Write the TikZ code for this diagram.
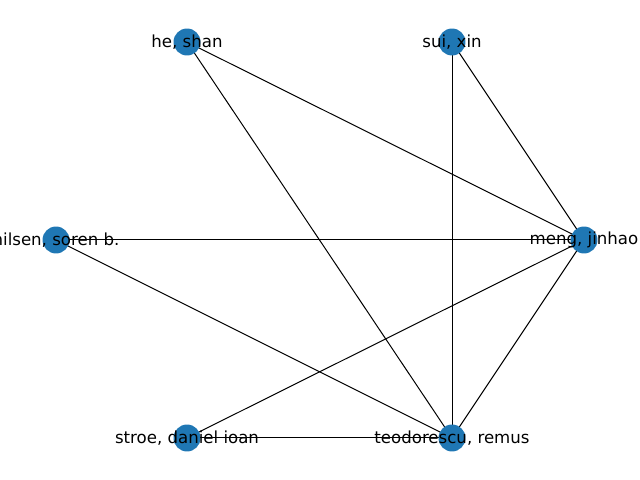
\documentclass[tikz,border=0pt]{standalone}
\usepackage{fontspec}
\setmainfont{DejaVu Sans}
\usetikzlibrary{backgrounds}
\definecolor{nodeblue}{HTML}{1F77B4}
\begin{document}
\begin{tikzpicture}[x=0.0254cm, y=0.0254cm,
  author/.style={circle, fill=nodeblue, draw=none, inner sep=0pt, minimum size=19.5pt,
    label={[font=\fontsize{12}{14}\selectfont, text=black]center:{#1}}},
  coauth/.style={line width=0.72pt, black}]
\useasboundingbox (0,0) rectangle (640,480);
% authors
\node[author={he, shan}] (he) at (187,438) {};
\node[author={sui, xin}] (sui) at (452,438) {};
\node[author={nilsen, soren b.}] (nilsen) at (56,240) {};
\node[author={meng, jinhao}] (meng) at (584,240) {};
\node[author={stroe, daniel ioan}] (stroe) at (187,42) {};
\node[author={teodorescu, remus}] (teo) at (452,42) {};
% co-authorship edges
\begin{pgfonlayer}{background}
\draw[coauth] (he.center) -- (meng.center);
\draw[coauth] (he.center) -- (teo.center);
\draw[coauth] (sui.center) -- (meng.center);
\draw[coauth] (sui.center) -- (teo.center);
\draw[coauth] (nilsen.center) -- (meng.center);
\draw[coauth] (nilsen.center) -- (teo.center);
\draw[coauth] (stroe.center) -- (meng.center);
\draw[coauth] (stroe.center) -- (teo.center);
\draw[coauth] (meng.center) -- (teo.center);
\end{pgfonlayer}
\end{tikzpicture}
\end{document}
